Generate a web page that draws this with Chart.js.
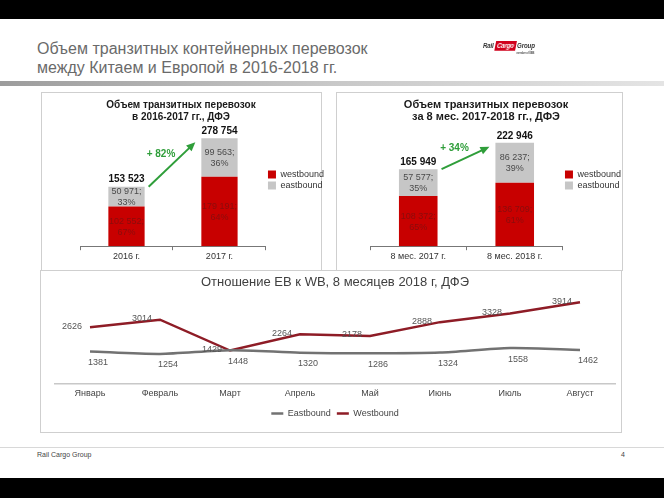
<!DOCTYPE html>
<html>
<head>
<meta charset="utf-8">
<script src="https://cdn.jsdelivr.net/npm/chart.js@4.4.0/dist/chart.umd.min.js"></script>
<style>
  body { margin:0; width:664px; height:498px; position:relative; overflow:hidden; background:#fff; font-family:"Liberation Sans", Arial, sans-serif; }
  .blk { position:absolute; left:0; width:664px; background:#000; }
  .title { position:absolute; left:37px; top:39px; font-size:16px; line-height:19px; color:#6a6a6a; }
  .band { position:absolute; left:0; top:81px; width:664px; height:5px; background:linear-gradient(to right, #9c9c9c, #c8c8c8 50%, #e4e4e4); }
  .box { position:absolute; border:1px solid #cfcfcf; }
  canvas { position:absolute; }
  .logo { position:absolute; left:483px; top:41px; font-size:7px; font-weight:bold; font-style:italic; color:#333; white-space:nowrap; transform:scaleX(0.88); transform-origin:left top; letter-spacing:-0.2px; }
  .logo .cargo { display:inline-block; background:#d0001c; color:#fff; padding:1px 2px; transform:skewX(-12deg); }
  .logo .member { position:absolute; left:38px; top:10px; font-size:3px; font-style:normal; color:#555; }
  .foot { position:absolute; top:447px; left:0; width:664px; height:1px; background:#d8d8d8; }
  .ftext { position:absolute; top:451px; font-size:7px; color:#444; }
</style>
</head>
<body>
<div class="blk" style="top:0;height:19px"></div>
<div class="blk" style="top:478px;height:20px"></div>
<div class="title">Объем транзитных контейнерных перевозок<br>между Китаем и Европой в 2016-2018 гг.</div>
<div class="logo">Rail <span class="cargo">Cargo</span> Group<span class="member">member of ÖBB</span></div>
<div class="band"></div>

<div class="box" style="left:41px;top:92px;width:279px;height:178px;border-bottom:none"></div>
<div class="box" style="left:336px;top:92px;width:285px;height:178px;border-bottom:none"></div>
<div class="box" style="left:40px;top:270px;width:580px;height:161px;background:#fff"></div>

<canvas id="yearChart" width="306" height="176" style="left:28px;top:92px"></canvas>
<canvas id="periodChart" width="290" height="176" style="left:341px;top:92px"></canvas>
<canvas id="monthChart" width="581" height="160" style="left:40px;top:271px"></canvas>

<div class="foot"></div>
<div class="ftext" style="left:37px">Rail Cargo Group</div>
<div class="ftext" style="left:621px">4</div>

<script>
const yearLabels = ['2016 г.', '2017 г.'];
const yearWest = [102552, 179191];
const yearEast = [50971, 99563];
const yearGrowth = '+ 82%';

const periodLabels = ['8 мес. 2017 г.', '8 мес. 2018 г.'];
const periodWest = [108372, 136709];
const periodEast = [57577, 86237];
const periodGrowth = '+ 34%';

const months = ['Январь', 'Февраль', 'Март', 'Апрель', 'Май', 'Июнь', 'Июль', 'Август'];
const eastMonthly = [1381, 1254, 1448, 1320, 1286, 1324, 1558, 1462];
const westMonthly = [2626, 3014, 1429, 2264, 2178, 2888, 3328, 3914];

const FONT = "'Liberation Sans', Arial, sans-serif";
const RED = '#c80000';
const GREY = '#c6c6c6';
const GREEN = '#2f9e3a';

function fmt(v)
{
    return v.toString().replace(/\B(?=(\d{3})+(?!\d))/g, ' ');
}

function stackedChart(canvasId, labels, west, east, growth, titleLines, yMax, barPct, axisWidth, titleFont)
{
    const labelPlugin =
    {
        id: 'labels_' + canvasId,
        afterDatasetsDraw(chart)
        {
            const ctx = chart.ctx;
            const westBars = chart.getDatasetMeta(0).data;
            const eastBars = chart.getDatasetMeta(1).data;
            ctx.save();
            ctx.textAlign = 'center';
            ctx.textBaseline = 'middle';
            for(let i = 0; i < labels.length; i++)
            {
                const total = west[i] + east[i];
                const wPct = Math.round(west[i] / total * 100);
                const ePct = Math.round(east[i] / total * 100);
                const wb = westBars[i];
                const eb = eastBars[i];
                ctx.font = '9px ' + FONT;
                ctx.fillStyle = '#8a0c0c';
                let cy = (wb.y + wb.base) / 2;
                ctx.fillText(fmt(west[i]) + ';', wb.x, cy - 5);
                ctx.fillText(wPct + '%', wb.x, cy + 6);
                ctx.fillStyle = '#4a4a4a';
                cy = (eb.y + eb.base) / 2;
                ctx.fillText(fmt(east[i]) + ';', eb.x, cy - 5);
                ctx.fillText(ePct + '%', eb.x, cy + 6);
                ctx.fillStyle = '#111';
                ctx.font = 'bold 10px ' + FONT;
                ctx.fillText(fmt(total), eb.x, eb.y - 7);
            }
            // growth arrow
            const b0 = eastBars[0];
            const b1 = eastBars[1];
            const x1 = b0.x + b0.width / 2 + 4;
            const y1 = b0.y;
            const x2 = b1.x - b1.width / 2 - 6;
            const y2 = b1.y + 4;
            const ang = Math.atan2(y2 - y1, x2 - x1);
            ctx.strokeStyle = GREEN;
            ctx.fillStyle = GREEN;
            ctx.lineWidth = 2;
            ctx.beginPath();
            ctx.moveTo(x1, y1);
            ctx.lineTo(x2 - 6 * Math.cos(ang), y2 - 6 * Math.sin(ang));
            ctx.stroke();
            ctx.beginPath();
            ctx.moveTo(x2, y2);
            ctx.lineTo(x2 - 9 * Math.cos(ang) + 4 * Math.sin(ang), y2 - 9 * Math.sin(ang) - 4 * Math.cos(ang));
            ctx.lineTo(x2 - 9 * Math.cos(ang) - 4 * Math.sin(ang), y2 - 9 * Math.sin(ang) + 4 * Math.cos(ang));
            ctx.closePath();
            ctx.fill();
            ctx.font = 'bold 10px ' + FONT;
            ctx.fillText(growth, (x1 + x2) / 2 - 11, (y1 + y2) / 2 - 10);
            ctx.restore();
        }
    };

    return new Chart(document.getElementById(canvasId),
    {
        type: 'bar',
        data:
        {
            labels: labels,
            datasets:
            [
                {
                    label: 'westbound',
                    data: west,
                    backgroundColor: RED,
                    barPercentage: barPct,
                    categoryPercentage: 1,
                },
                {
                    label: 'eastbound',
                    data: east,
                    backgroundColor: GREY,
                    barPercentage: barPct,
                    categoryPercentage: 1,
                }
            ]
        },
        options:
        {
            responsive: false,
            animation: false,
            layout: { padding: { left: 0, right: 0, top: 5, bottom: 5 } },
            scales:
            {
                x:
                {
                    stacked: true,
                    grid: { display: true, drawOnChartArea: false, drawTicks: true, tickLength: 4, color: '#777' },
                    border: { color: '#777' },
                    ticks: { font: { size: 9, family: FONT }, color: '#333', padding: 1 },
                },
                y:
                {
                    stacked: true,
                    min: 0,
                    max: yMax,
                    ticks: { display: false },
                    grid: { display: false, drawTicks: false },
                    border: { display: false },
                    afterFit: (axis) => { axis.width = axisWidth; },
                }
            },
            plugins:
            {
                title:
                {
                    display: true,
                    text: titleLines,
                    font: titleFont,
                    color: '#1a1a1a',
                    padding: { top: 2, bottom: 7 },
                },
                legend:
                {
                    position: 'right',
                    labels:
                    {
                        boxWidth: 8,
                        boxHeight: 8,
                        padding: 2,
                        font: { size: 9, family: FONT },
                        color: '#333',
                    }
                },
                tooltip: { enabled: false },
            }
        },
        plugins: [labelPlugin]
    });
}

stackedChart('yearChart', yearLabels, yearWest, yearEast, yearGrowth,
    ['Объем транзитных перевозок', 'в 2016-2017 гг., ДФЭ'], 300000, 0.39, 52,
    { size: 10, weight: 'bold', family: FONT, lineHeight: 1.2 });

stackedChart('periodChart', periodLabels, periodWest, periodEast, periodGrowth,
    ['Объем транзитных перевозок', 'за 8 мес. 2017-2018 гг., ДФЭ'], 250000, 0.4, 29,
    { size: 11, weight: 'bold', family: FONT, lineHeight: 1.1 });

const linePlugin =
{
    id: 'lineLabels',
    afterDatasetsDraw(chart)
    {
        const ctx = chart.ctx;
        const eastPts = chart.getDatasetMeta(0).data;
        const westPts = chart.getDatasetMeta(1).data;
        ctx.save();
        ctx.font = '9px ' + FONT;
        ctx.fillStyle = '#555';
        ctx.textBaseline = 'middle';
        ctx.textAlign = 'right';
        westPts.forEach((p, i) => ctx.fillText(String(westMonthly[i]), p.x - 8, p.y - 1));
        ctx.textAlign = 'center';
        eastPts.forEach((p, i) => ctx.fillText(String(eastMonthly[i]), p.x + 8, p.y + 11));
        ctx.restore();
    }
};

new Chart(document.getElementById('monthChart'),
{
    type: 'line',
    data:
    {
        labels: months,
        datasets:
        [
            {
                label: 'Eastbound',
                data: eastMonthly,
                borderColor: '#727272',
                backgroundColor: '#727272',
                borderWidth: 2.5,
                pointRadius: 0,
                tension: 0.25,
            },
            {
                label: 'Westbound',
                data: westMonthly,
                borderColor: '#8e1c26',
                backgroundColor: '#8e1c26',
                borderWidth: 2.5,
                pointRadius: 0,
                tension: 0,
            }
        ]
    },
    options:
    {
        responsive: false,
        animation: false,
        layout: { padding: { left: 15, right: 6, top: 2, bottom: 3 } },
        scales:
        {
            x:
            {
                offset: true,
                grid: { display: false, drawTicks: false },
                border: { color: '#c8c8c8', width: 1.5 },
                ticks: { font: { size: 9, family: FONT }, color: '#444', padding: 4 },
            },
            y:
            {
                display: false,
                min: -300,
                max: 4200,
            }
        },
        plugins:
        {
            title:
            {
                display: true,
                text: 'Отношение ЕВ к WB, 8 месяцев 2018 г, ДФЭ',
                font: { size: 13, weight: 'normal', family: FONT },
                color: '#404040',
                padding: { top: 2, bottom: 6 },
            },
            legend:
            {
                position: 'bottom',
                labels:
                {
                    usePointStyle: true,
                    pointStyle: 'line',
                    pointStyleWidth: 12,
                    boxHeight: 9,
                    padding: 6,
                    font: { size: 9, family: FONT },
                    color: '#444',
                }
            },
            tooltip: { enabled: false },
        }
    },
    plugins: [linePlugin]
});
</script>
</body>
</html>
